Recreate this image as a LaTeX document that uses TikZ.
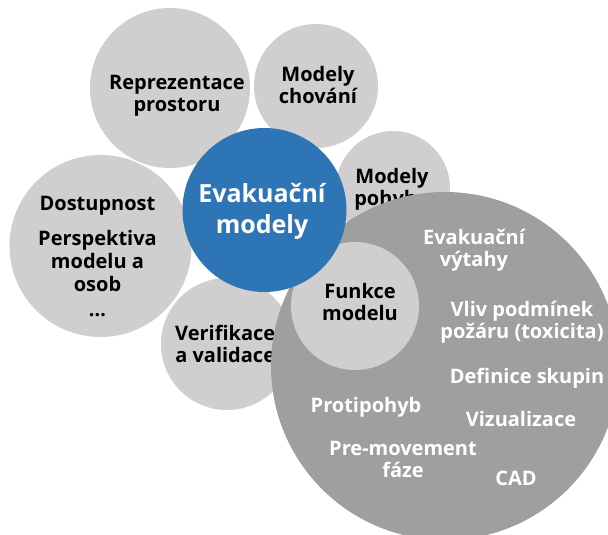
\documentclass[tikz,border=0pt]{standalone}
\usepackage{fontspec}
\setmainfont{Open Sans}
\begin{document}
\begin{tikzpicture}[x=1pt,y=-1pt,
  bubble/.style={circle,inner sep=0pt,minimum size=#1},
  light/.style={fill=lightgray},
  darkfill/.style={fill=midgray},
  lbl/.style={align=center,inner sep=0pt,font=\fontsize{20}{22}\selectfont\bfseries},
  darklbl/.style={lbl,text=black},
  whitelbl/.style={lbl,text=white},
  biglbl/.style={align=center,inner sep=0pt,text=white,font=\fontsize{25}{31}\selectfont\bfseries}]
\definecolor{lightgray}{HTML}{D0CECE}
\definecolor{midgray}{HTML}{9F9F9F}
\definecolor{blue}{HTML}{2E75B6}
\useasboundingbox (0,0) rectangle (608,535);

% outer topics
\node[bubble=160pt,light] (repr) at (170,88) {};
\node[darklbl] (reprt) at (177,95.3) {Reprezentace\\prostoru};

\node[bubble=124pt,light] (chov) at (316,86) {};
\node[darklbl] (chovt) at (318,85) {Modely\\chování};

\node[bubble=114pt,light] (pohyb) at (393,188) {};
\node[darklbl] (pohybt) at (392,189.3) {Modely\\pohybu};

\node[bubble=182pt,light] (dost) at (100.5,246) {};
\node[darklbl,anchor=north,font=\fontsize{20}{23}\selectfont\bfseries] (dostt) at (97.5,195.7)
  {Dostupnost\\[12pt]Perspektiva\\modelu a\\osob\\[2pt]\ldots};

\node[bubble=132pt,light] (verif) at (227,344) {};
\node[darklbl,anchor=west] (verift) at (175,344.4) {Verifikace\\a validace};

% model functions
\node[bubble=348pt,darkfill] (funkce) at (445,366) {};
\node[whitelbl] (vytahy) at (474,249.8) {Evakuační\\výtahy};
\node[whitelbl] (pozar) at (522,322) {Vliv podmínek\\požáru (toxicita)};
\node[whitelbl] (skupiny) at (527,377.8) {Definice skupin};
\node[whitelbl] (proti) at (366,407.3) {Protipohyb};
\node[whitelbl] (vizual) at (521,419.4) {Vizualizace};
\node[whitelbl] (premov) at (403,459.9) {Pre-movement\\fáze};
\node[whitelbl] (cad) at (516,477.9) {CAD};

\node[bubble=128pt,light] (funkcem) at (355,306) {};
\node[darklbl] (funkcet) at (360,302.4) {Funkce\\modelu};

% central topic
\node[bubble=164pt,fill=blue] (evak) at (264.5,210) {};
\node[biglbl] (evakt) at (262,211.5) {Evakuační\\modely};
\end{tikzpicture}
\end{document}
